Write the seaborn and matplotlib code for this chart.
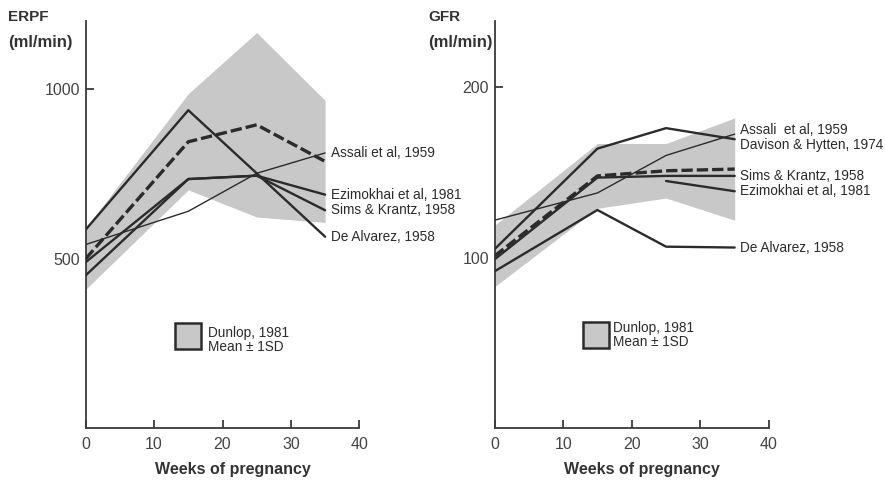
import numpy as np
import pandas as pd
import matplotlib
matplotlib.use("Agg")
import matplotlib.pyplot as plt
import seaborn as sns
from matplotlib.patches import Rectangle

# ---------------- data ----------------
weeks = [0, 15, 25, 35]

# ERPF (ml/min)
erpf_dunlop_mean = [500, 845, 895, 787]
erpf_dunlop_sd = [90, 142, 272, 180]
erpf_assali = [542, 640, 752, 812]
erpf_ezimokhai = [451, 735, 745, 689]
erpf_sims = [490, 735, 745, 643]
erpf_dealvarez = [586, 938, 752, 565]

# GFR (ml/min)
gfr_dunlop_mean = [101, 148, 151, 152]
gfr_dunlop_sd = [18, 19, 16, 30]
gfr_assali = [122, 138, 160, 172.5]
gfr_davison = [105, 164, 176, 169.5]
gfr_sims = [99, 147, 148, 148]
gfr_ezimokhai = [np.nan, np.nan, 145, 139]
gfr_dealvarez = [92, 128, 106.5, 106]

erpf_ticks = [500, 1000]
gfr_ticks = [100, 200]
x_ticks = [0, 10, 20, 30, 40]

# ---------------- style ----------------
sns.set_theme(style="white")
plt.rcParams["font.family"] = ["Liberation Sans", "DejaVu Sans"]
INK = "#2b2b2b"
BAND = "#c8c8c8"
LABEL_FONT = ["Liberation Sans Narrow", "Liberation Sans", "DejaVu Sans"]

W, H = 885, 482
fig = plt.figure(figsize=(W / 100, H / 100), dpi=100)
fig.patch.set_facecolor("white")

def ax_rect(x0, x1, ytop, ybot):
    return [x0 / W, 1 - ybot / H, (x1 - x0) / W, (ybot - ytop) / H]

axL = fig.add_axes(ax_rect(85.7, 359.3, 20.7, 428.3))
axR = fig.add_axes(ax_rect(494.5, 769.0, 20.7, 428.3))


def draw_panel(ax, mean, sd, series, ylim, yticks, label_dy):
    mean = np.asarray(mean, float)
    sd = np.asarray(sd, float)
    ax.fill_between(weeks, mean - sd, mean + sd, color=BAND, linewidth=0, zorder=1)
    # Dunlop mean (dashed)
    sns.lineplot(x=weeks, y=mean, ax=ax, color=INK, linewidth=2.4, zorder=3)
    ax.lines[-1].set_dashes([3.4, 1.2])
    for name, vals, lw in series:
        df = pd.DataFrame({"w": weeks, "v": vals}).dropna()
        sns.lineplot(data=df, x="w", y="v", ax=ax, color=INK, linewidth=lw, zorder=4)
        ax.annotate(name, xy=(35, df["v"].iloc[-1]), xytext=(4, label_dy.get(name, 0)),
                    textcoords="offset points", va="center", ha="left",
                    fontsize=9.8, color=INK, family=LABEL_FONT, annotation_clip=False)
    ax.set_xlim(0, 40)
    ax.set_ylim(*ylim)
    ax.set_xticks(x_ticks)
    ax.set_yticks(yticks)
    ax.set_xlabel("")
    ax.set_ylabel("")
    for s in ["top", "right"]:
        ax.spines[s].set_visible(False)
    for s in ["left", "bottom"]:
        ax.spines[s].set_color("#3a3a3a")
        ax.spines[s].set_linewidth(1.3)
    ax.tick_params(axis="both", which="major", bottom=True, left=True,
                   direction="in", length=6, width=1.3, color="#3a3a3a",
                   labelsize=11.5, labelcolor="#444444")
    ax.tick_params(axis="x", pad=6)
    ax.tick_params(axis="y", pad=4)
    ax.set_facecolor("white")
    ax.text(0.5365, -0.102, "Weeks of pregnancy", transform=ax.transAxes,
            ha="center", va="center", fontsize=11.5, fontweight="bold", color="#333333")


draw_panel(axL, erpf_dunlop_mean, erpf_dunlop_sd,
           [("Assali et al, 1959", erpf_assali, 1.0),
            ("Ezimokhai et al, 1981", erpf_ezimokhai, 1.7),
            ("Sims & Krantz, 1958", erpf_sims, 1.7),
            ("De Alvarez, 1958", erpf_dealvarez, 1.7)],
           (0, 1202), erpf_ticks, {})

draw_panel(axR, gfr_dunlop_mean, gfr_dunlop_sd,
           [("Assali  et al, 1959", gfr_assali, 1.0),
            ("Davison & Hytten, 1974", gfr_davison, 1.7),
            ("Sims & Krantz, 1958", gfr_sims, 1.7),
            ("Ezimokhai et al, 1981", gfr_ezimokhai, 1.7),
            ("De Alvarez, 1958", gfr_dealvarez, 1.7)],
           (0, 239), gfr_ticks, {"Assali  et al, 1959": 3.3, "Davison & Hytten, 1974": -3.8})

# legend boxes
for ax, bx, by, tx, ty in [(axL, 0.326, 0.194, 0.448, 0.2165),
                           (axR, 0.321, 0.196, 0.433, 0.229)]:
    ax.add_patch(Rectangle((bx, by), 0.097, 0.065, transform=ax.transAxes,
                           facecolor=BAND, edgecolor=INK, linewidth=1.8, zorder=5,
                           clip_on=False))
    ax.text(tx, ty, "Dunlop, 1981\nMean \u00b1 1SD", transform=ax.transAxes,
            ha="left", va="center", fontsize=9.8, color=INK, family=LABEL_FONT,
            linespacing=1.05)

# y-axis titles
for x, t in [(8, "ERPF"), (428, "GFR")]:
    fig.text(x / W, 1 - 17 / H, t, ha="left", va="center", fontsize=11,
             fontweight="bold", color="#333333")
    fig.text(x / W, 1 - 42 / H, "(ml/min)", ha="left", va="center", fontsize=12,
             fontweight="bold", color="#333333")

fig.savefig("out.png", dpi=100, facecolor="white")
